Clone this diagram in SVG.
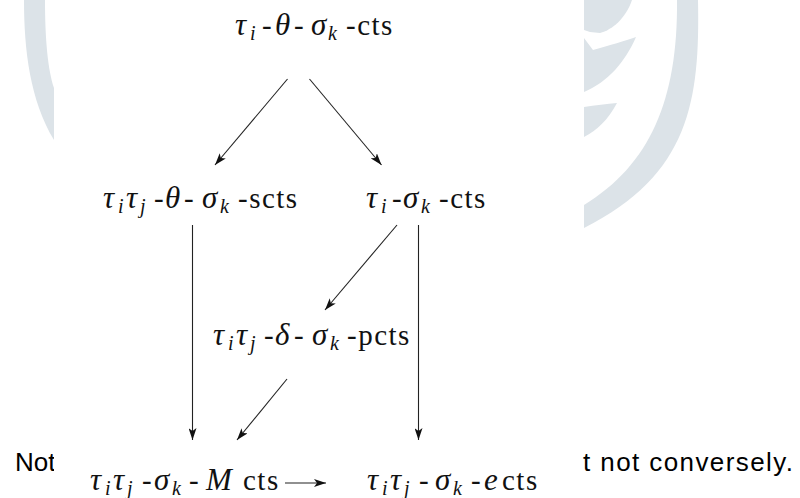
<svg xmlns="http://www.w3.org/2000/svg" width="800" height="498" viewBox="0 0 800 498">
<style>
.wm{fill:#dce3e8}
.bg{font-family:'Liberation Sans',Arial,sans-serif;font-size:26px;fill:#000}
text.m{font-family:'Liberation Serif','DejaVu Serif',serif;font-size:29px;fill:#111}
.i{font-style:italic;font-size:31px}
.s{font-style:italic;font-size:20px}
.r{letter-spacing:1.5px}
.c{stroke:#222;stroke-width:1.1;fill:none;marker-end:url(#ah)}
</style>
<defs>
<marker id="ah" markerUnits="userSpaceOnUse" markerWidth="13" markerHeight="8" refX="12" refY="4" orient="auto"><path d="M0,0 L12,4 L0,8 L3,4 Z" fill="#111"/></marker>
</defs>
<rect x="0" y="0" width="800" height="498" fill="#fff"/>
<g id="watermark">
<path class="wm" d="M24,0 C24,50 30,100 54,140 L54,88 C48,70 45,40 45,0 Z"/>
<path class="wm" d="M698,0 C700,100 690,175 584,228 L584,205 C650,165 678,100 677,0 Z"/>
<path class="wm" d="M584,0 L632,0 C626,18 612,30 600,33 L590,32 L584,30 Z"/>
<path class="wm" d="M584,38 L593,50 C610,45 625,41 636,37 C625,62 608,82 584,92 Z"/>
<path class="wm" d="M584,107 C595,105 607,104 617,103 C608,120 597,130 584,137 Z"/>
</g>
<text class="bg" x="15" y="471">Not</text>
<rect x="54" y="0" width="529" height="498" fill="#fff"/>
<text class="bg" x="583" y="471" textLength="210" lengthAdjust="spacing">t not conversely.</text>
<g id="connectors">
<line class="c" x1="287.5" y1="79" x2="215" y2="165"/>
<line class="c" x1="309.5" y1="79" x2="381.5" y2="165"/>
<line class="c" x1="192.5" y1="225" x2="192.5" y2="440"/>
<line class="c" x1="397" y1="225" x2="325" y2="310"/>
<line class="c" x1="418.5" y1="225" x2="418.5" y2="440"/>
<line class="c" x1="287" y1="379" x2="237" y2="440"/>
<line class="c" x1="285" y1="483" x2="326" y2="483"/>
</g>
<g id="n-top">
<text class="m" font-family="Liberation Serif, serif"><tspan class="i" x="235" y="35">τ</tspan><tspan class="s" x="250" y="40">i</tspan><tspan x="262" y="35">-</tspan><tspan class="i" x="275" y="35">θ</tspan><tspan x="294" y="35">-</tspan><tspan class="i" x="311" y="35">σ</tspan><tspan class="s" x="328" y="40">k</tspan><tspan class="r" x="346" y="35">-cts</tspan></text>
</g>
<g id="n-scts">
<text class="m" font-family="Liberation Serif, serif"><tspan class="i" x="103" y="208">τ</tspan><tspan class="s" x="118" y="213">i</tspan><tspan class="i" x="126" y="208">τ</tspan><tspan class="s" x="140" y="213">j</tspan><tspan x="154" y="208">-</tspan><tspan class="i" x="165" y="208">θ</tspan><tspan x="184" y="208">-</tspan><tspan class="i" x="202" y="208">σ</tspan><tspan class="s" x="220" y="213">k</tspan><tspan class="r" x="238" y="208">-scts</tspan></text>
</g>
<g id="n-cts">
<text class="m" font-family="Liberation Serif, serif"><tspan class="i" x="366" y="208">τ</tspan><tspan class="s" x="381" y="213">i</tspan><tspan x="392" y="208">-</tspan><tspan class="i" x="403" y="208">σ</tspan><tspan class="s" x="421" y="213">k</tspan><tspan class="r" x="439" y="208">-cts</tspan></text>
</g>
<g id="n-pcts">
<text class="m" font-family="Liberation Serif, serif"><tspan class="i" x="213" y="345">τ</tspan><tspan class="s" x="228" y="350">i</tspan><tspan class="i" x="236" y="345">τ</tspan><tspan class="s" x="250" y="350">j</tspan><tspan x="264" y="345">-</tspan><tspan class="i" x="275" y="345">δ</tspan><tspan x="294" y="345">-</tspan><tspan class="i" x="312" y="345">σ</tspan><tspan class="s" x="330" y="350">k</tspan><tspan class="r" x="347" y="345">-pcts</tspan></text>
</g>
<g id="n-mcts">
<text class="m" font-family="Liberation Serif, serif"><tspan class="i" x="90" y="490">τ</tspan><tspan class="s" x="105" y="495">i</tspan><tspan class="i" x="113" y="490">τ</tspan><tspan class="s" x="127" y="495">j</tspan><tspan x="142" y="490">-</tspan><tspan class="i" x="154" y="490">σ</tspan><tspan class="s" x="172" y="495">k</tspan><tspan x="189" y="490">-</tspan><tspan class="i" x="206" y="490">M</tspan><tspan class="r" x="243" y="490">cts</tspan></text>
</g>
<g id="n-ects">
<text class="m" font-family="Liberation Serif, serif"><tspan class="i" x="367" y="490">τ</tspan><tspan class="s" x="382" y="495">i</tspan><tspan class="i" x="390" y="490">τ</tspan><tspan class="s" x="404" y="495">j</tspan><tspan x="419" y="490">-</tspan><tspan class="i" x="435" y="490">σ</tspan><tspan class="s" x="453" y="495">k</tspan><tspan x="471" y="490">-</tspan><tspan class="i" x="484" y="490">e</tspan><tspan class="r" x="502" y="490">cts</tspan></text>
</g>
</svg>
